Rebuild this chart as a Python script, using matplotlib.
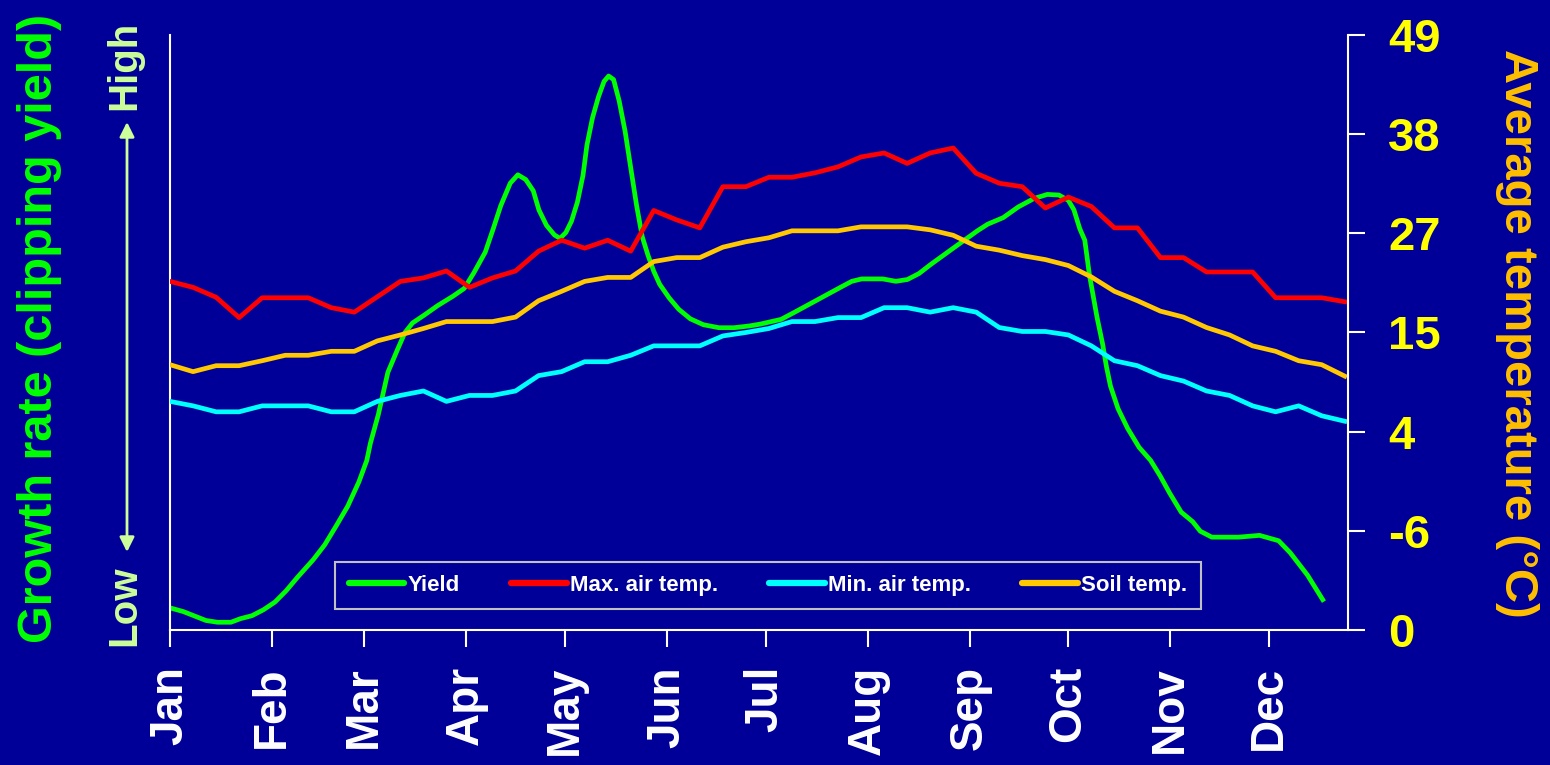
import numpy as np
import matplotlib
matplotlib.use('Agg')
import matplotlib.pyplot as plt
from matplotlib.lines import Line2D

plt.rcParams['font.family'] = ['Liberation Sans', 'DejaVu Sans']
plt.rcParams['font.weight'] = 'bold'

bg = '#000099'

# month ticks (day of year)
month_days = [0, 31, 59, 90, 120, 151, 181, 212, 243, 273, 304, 334]
month_names = ['Jan', 'Feb', 'Mar', 'Apr', 'May', 'Jun',
               'Jul', 'Aug', 'Sep', 'Oct', 'Nov', 'Dec']

# right axis: equally spaced ticks with the labels printed on the chart
temp_ticks = [0, 20, 40, 60, 80, 100, 120]
temp_labels = ['0', '-6', '4', '15', '27', '38', '49']

# weekly temperatures (in tick units)
week_day = np.arange(0, 358, 7)
max_air = [70.3, 69.1, 67.1, 63.0, 67.0, 67.0, 67.0, 65.0, 64.1, 67.2,
           70.3, 71.0, 72.4, 69.1, 71.0, 72.4, 76.4, 78.6, 77.0, 78.6,
           76.4, 84.6, 82.7, 81.1, 89.4, 89.4, 91.3, 91.3, 92.2, 93.4,
           95.4, 96.2, 94.1, 96.2, 97.2, 92.1, 90.1, 89.4, 85.1, 87.3,
           85.4, 81.1, 81.1, 75.1, 75.1, 72.2, 72.2, 72.2, 67.0, 67.0,
           67.0, 66.2]
min_air = [46.1, 45.2, 44.0, 44.0, 45.2, 45.2, 45.2, 44.0, 44.0, 46.1,
           47.3, 48.2, 46.1, 47.3, 47.3, 48.2, 51.3, 52.1, 54.1, 54.1,
           55.4, 57.3, 57.3, 57.3, 59.3, 60.0, 60.8, 62.2, 62.2, 63.0,
           63.0, 65.0, 65.0, 64.1, 65.0, 64.1, 61.0, 60.2, 60.2, 59.5,
           57.3, 54.3, 53.3, 51.3, 50.2, 48.2, 47.3, 45.2, 44.0, 45.2,
           43.2, 42.1]
soil = [53.5, 52.1, 53.3, 53.3, 54.3, 55.4, 55.4, 56.2, 56.2, 58.3,
        59.5, 60.8, 62.2, 62.2, 62.2, 63.1, 66.4, 68.3, 70.3, 71.1,
        71.1, 74.3, 75.1, 75.1, 77.2, 78.3, 79.1, 80.5, 80.5, 80.5,
        81.3, 81.3, 81.3, 80.7, 79.6, 77.4, 76.6, 75.5, 74.7, 73.5,
        71.2, 68.3, 66.4, 64.3, 63.1, 61.0, 59.5, 57.3, 56.2, 54.3,
        53.5, 51.2]

# growth rate (relative, 0-100)
yield_day = [0.1, 4.0, 10.9, 14.4, 18.5, 21.4, 24.9, 28.4, 31.9, 35.3,
             38.8, 43.5, 47.0, 50.5, 54.0, 57.4, 59.8, 60.9, 63.3, 66.2,
             69.1, 71.4, 73.7, 77.2, 81.3, 86.0, 89.4, 92.3, 95.8, 98.2,
             100.5, 103.4, 105.7, 108.1, 110.4, 112.1, 114.4, 116.8, 118.5, 120.3,
             122.0, 123.8, 125.5, 126.7, 128.4, 130.2, 131.9, 133.3, 134.8, 136.5,
             138.3, 140.0, 141.8, 143.5, 145.3, 147.0, 148.8, 151.7, 154.6, 158.1,
             162.1, 166.8, 171.4, 176.1, 179.3, 185.7, 189.8, 196.8, 203.8, 207.2,
             210.2, 216.6, 220.6, 224.1, 227.6, 231.1, 238.1, 245.4, 248.5, 253.2,
             257.8, 262.5, 266.6, 270.1, 273.0, 274.7, 276.5, 278.0, 279.4, 281.7,
             283.4, 284.6, 285.8, 288.1, 291.0, 294.5, 298.0, 300.9, 303.8, 307.3,
             310.8, 313.1, 316.6, 324.7, 331.1, 336.9, 340.4, 345.7, 350.3]
yield_val = [3.7, 3.1, 1.6, 1.3, 1.3, 1.9, 2.4, 3.4, 4.7, 6.6,
             8.9, 11.8, 14.3, 17.5, 20.8, 24.9, 28.5, 31.4, 36.2, 43.3,
             47.1, 50.0, 51.6, 52.9, 54.5, 56.1, 57.4, 60.0, 63.5, 67.4,
             71.3, 75.1, 76.5, 75.7, 73.8, 70.6, 68.0, 66.4, 65.8, 66.8,
             68.7, 71.9, 76.4, 81.5, 86.1, 89.6, 92.2, 93.1, 92.5, 88.9,
             83.8, 77.7, 71.3, 66.1, 62.9, 60.3, 58.1, 55.8, 53.9, 52.3,
             51.3, 50.8, 50.8, 51.1, 51.4, 52.2, 53.4, 55.5, 57.6, 58.6,
             59.0, 59.0, 58.6, 58.9, 59.9, 61.4, 64.2, 67.1, 68.2, 69.3,
             71.1, 72.5, 73.2, 73.1, 72.2, 70.6, 67.4, 65.5, 59.7, 52.6,
             48.1, 44.2, 41.0, 37.2, 33.9, 30.7, 28.5, 25.9, 23.0, 19.8,
             18.2, 16.6, 15.6, 15.6, 15.9, 15.0, 13.0, 9.2, 5.1]

fig = plt.figure(figsize=(15.5, 7.65), dpi=100, facecolor=bg)
ax = fig.add_axes([0.1097, 0.1765, 0.76, 0.7778], facecolor=bg)
ax2 = ax.twinx()

lw = 3.4
ax.plot(yield_day, yield_val, color='#00FF00', lw=lw, solid_joinstyle='round')
ax2.plot(week_day, max_air, color='#FF0000', lw=lw, solid_joinstyle='round')
ax2.plot(week_day, min_air, color='#00FFFF', lw=lw, solid_joinstyle='round')
ax2.plot(week_day, soil, color='#FFC800', lw=lw, solid_joinstyle='round')

ax.set_xlim(0, 358)
ax.set_ylim(0, 100)
ax2.set_ylim(0, 120)

ax.set_xticks(month_days, month_names, rotation=90)
ax.tick_params(axis='x', length=12, width=1.5, color='white', pad=14,
               labelsize=33, labelcolor='white')
ax.tick_params(axis='y', left=False, labelleft=False)
ax2.set_yticks(temp_ticks, temp_labels)
ax2.tick_params(axis='y', length=12, width=1.5, color='white', pad=17,
                labelsize=34, labelcolor='#FFFF00')

for s in ['top', 'right']:
    ax.spines[s].set_visible(False)
for s in ['top', 'left', 'bottom']:
    ax2.spines[s].set_visible(False)
for s in ['left', 'bottom']:
    ax.spines[s].set_color('white')
    ax.spines[s].set_linewidth(1.5)
ax2.spines['right'].set_color('white')
ax2.spines['right'].set_linewidth(1.5)

# axis titles
fig.text(40 / 1550, 1 - 328 / 765, 'Growth rate (clipping yield)', rotation=90,
         ha='center', va='center', color='#00FF00', fontsize=35, fontweight='bold')
fig.text(1517 / 1550, 1 - 333 / 765, 'Average temperature (\u00b0C)', rotation=270,
         ha='center', va='center', color='#FFC000', fontsize=34, fontweight='bold')
fig.text(124 / 1550, 1 - 65 / 765, 'High', rotation=90, ha='center', va='center',
         color='#CCFF99', fontsize=29, fontweight='bold')
fig.text(124 / 1550, 1 - 606 / 765, 'Low', rotation=90, ha='center', va='center',
         color='#CCFF99', fontsize=29, fontweight='bold')
ax.annotate('', xy=(127 / 1550, 1 - 122 / 765), xytext=(127 / 1550, 1 - 552 / 765),
            xycoords='figure fraction', textcoords='figure fraction',
            arrowprops=dict(arrowstyle='<|-|>', color='#CCFF99', lw=2,
                            mutation_scale=22, shrinkA=0, shrinkB=0),
            annotation_clip=False)

handles = [Line2D([], [], color=c, lw=4.5, solid_capstyle='round')
           for c in ['#00FF00', '#FF0000', '#00FFFF', '#FFC800']]
labels = ['Yield', 'Max. air temp.', 'Min. air temp.', 'Soil temp.']
leg = ax2.legend(handles, labels, ncol=4, loc='center',
                 bbox_to_anchor=(0.5076, 0.0748), fontsize=16,
                 handlelength=2.5, handletextpad=0.15, columnspacing=2.3,
                 borderpad=0.6, fancybox=False, framealpha=1,
                 facecolor=bg, edgecolor='#C0C0C0', labelcolor='white')
leg.get_frame().set_linewidth(1.5)

fig.savefig('out.png', dpi=100, facecolor=bg)
